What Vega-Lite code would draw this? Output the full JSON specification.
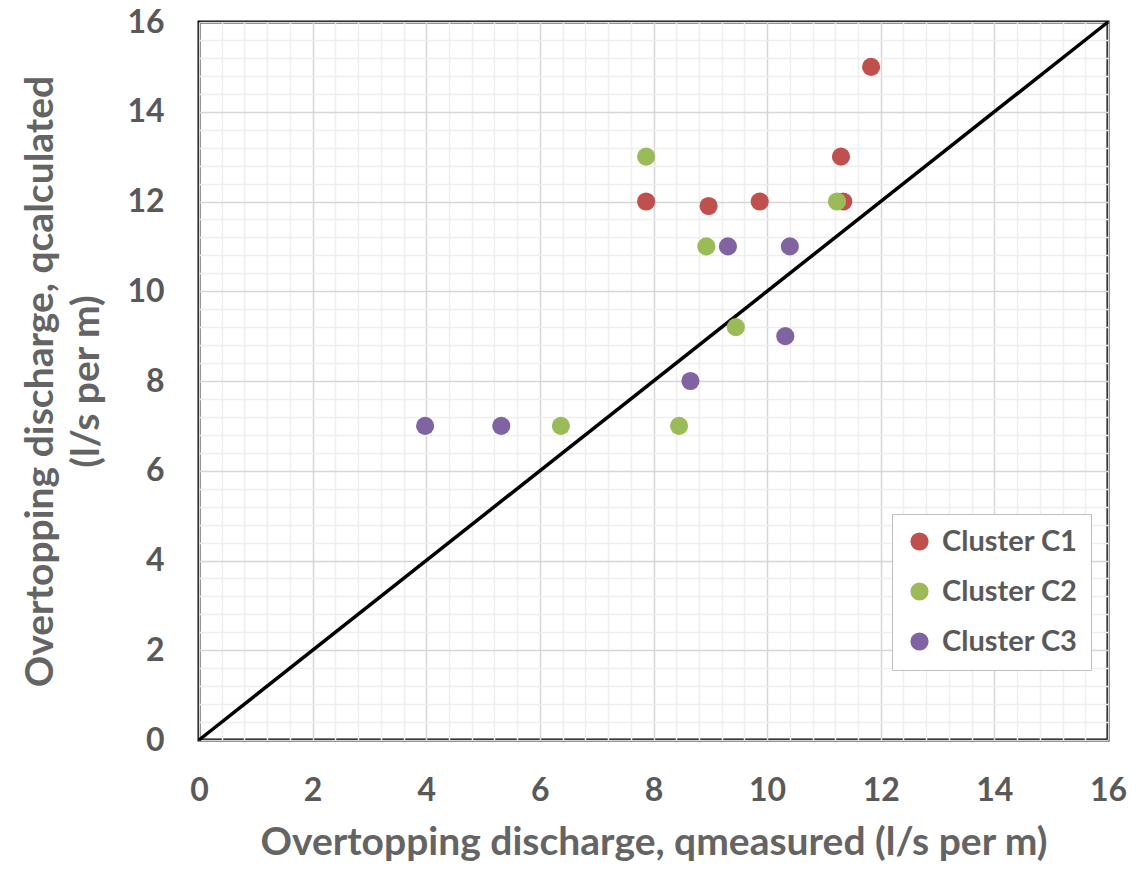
{
  "$schema": "https://vega.github.io/schema/vega-lite/v6.json",
  "width": 909,
  "height": 718,
  "autosize": {"type": "none"},
  "padding": {"left": 199, "top": 22, "right": 35, "bottom": 130},
  "background": "white",
  "config": {
    "view": {"stroke": "black", "strokeWidth": 3},
    "font": "Lato",
    "axis": {
      "domain": false,
      "ticks": false,
      "labelOverlap": false,
      "tickCount": 60,
      "gridColor": {"condition": {"test": "abs(datum.value/2 - round(datum.value/2)) < 0.001", "value": "#d6d6d6"}, "value": "#eeeeee"},
      "gridWidth": 1.5,
      "labelFont": "Lato",
      "labelFontWeight": "bold",
      "labelFontSize": 32,
      "labelColor": "#595959",
      "titleFont": "Lato",
      "titleFontWeight": "bold",
      "titleFontSize": 39,
      "titleColor": "#646464"
    }
  },
  "datasets": {
    "points": [
      {"x": 7.87, "y": 12.0, "cluster": "Cluster C1"},
      {"x": 8.97, "y": 11.9, "cluster": "Cluster C1"},
      {"x": 9.87, "y": 12.0, "cluster": "Cluster C1"},
      {"x": 11.3, "y": 13.0, "cluster": "Cluster C1"},
      {"x": 11.34, "y": 12.0, "cluster": "Cluster C1"},
      {"x": 11.83, "y": 15.0, "cluster": "Cluster C1"},
      {"x": 7.87, "y": 13.0, "cluster": "Cluster C2"},
      {"x": 8.93, "y": 11.0, "cluster": "Cluster C2"},
      {"x": 11.23, "y": 12.0, "cluster": "Cluster C2"},
      {"x": 9.45, "y": 9.2, "cluster": "Cluster C2"},
      {"x": 8.45, "y": 7.0, "cluster": "Cluster C2"},
      {"x": 6.37, "y": 7.0, "cluster": "Cluster C2"},
      {"x": 9.31, "y": 11.0, "cluster": "Cluster C3"},
      {"x": 10.4, "y": 11.0, "cluster": "Cluster C3"},
      {"x": 10.32, "y": 9.0, "cluster": "Cluster C3"},
      {"x": 8.65, "y": 8.0, "cluster": "Cluster C3"},
      {"x": 5.32, "y": 7.0, "cluster": "Cluster C3"},
      {"x": 3.98, "y": 7.0, "cluster": "Cluster C3"}
    ],
    "line": [
      {"x": 0, "y": 0},
      {"x": 16, "y": 16}
    ]
  },
  "layer": [
    {
      "data": {"name": "line"},
      "mark": {"type": "line", "color": "black", "strokeWidth": 3.5},
      "encoding": {
        "x": {
          "field": "x", "type": "quantitative",
          "scale": {"domain": [0, 16], "nice": false},
          "axis": {
            "values": [0,0.4,0.8,1.2,1.6,2,2.4,2.8,3.2,3.6,4,4.4,4.8,5.2,5.6,6,6.4,6.8,7.2,7.6,8,8.4,8.8,9.2,9.6,10,10.4,10.8,11.2,11.6,12,12.4,12.8,13.2,13.6,14,14.4,14.8,15.2,15.6,16],
            "labelExpr": "abs(datum.value/2 - round(datum.value/2)) < 0.001 ? format(datum.value, 'd') : ''",
            "labelPadding": 35,
            "labelFlush": false,
            "title": "Overtopping discharge, qmeasured (l/s per m)",
            "titlePadding": 17
          }
        },
        "y": {
          "field": "y", "type": "quantitative",
          "scale": {"domain": [0, 16], "nice": false},
          "axis": {
            "values": [0,0.4,0.8,1.2,1.6,2,2.4,2.8,3.2,3.6,4,4.4,4.8,5.2,5.6,6,6.4,6.8,7.2,7.6,8,8.4,8.8,9.2,9.6,10,10.4,10.8,11.2,11.6,12,12.4,12.8,13.2,13.6,14,14.4,14.8,15.2,15.6,16],
            "labelExpr": "abs(datum.value/2 - round(datum.value/2)) < 0.001 ? format(datum.value, 'd') : ''",
            "labelPadding": 35,
            "labelFlush": false,
            "title": ["Overtopping discharge, qcalculated", "(l/s per m)"],
            "titlePadding": 20,
            "titleLineHeight": 46
          }
        }
      }
    },
    {
      "data": {"name": "points"},
      "mark": {"type": "circle", "size": 330, "opacity": 1},
      "encoding": {
        "x": {"field": "x", "type": "quantitative"},
        "y": {"field": "y", "type": "quantitative"},
        "color": {
          "field": "cluster", "type": "nominal",
          "scale": {"domain": ["Cluster C1", "Cluster C2", "Cluster C3"], "range": ["#c0504d", "#9bbb59", "#8064a2"]},
          "legend": {
            "title": null,
            "orient": "none",
            "legendX": 693,
            "legendY": 492,
            "symbolType": "circle",
            "symbolSize": 330,
            "symbolOpacity": 1,
            "labelFont": "Lato",
            "labelFontWeight": "bold",
            "labelFontSize": 29,
            "labelColor": "#595959",
            "rowPadding": 20,
            "padding": 13,
            "strokeColor": "#bfbfbf",
            "fillColor": "white",
            "labelOffset": 8
          }
        }
      }
    }
  ]
}
